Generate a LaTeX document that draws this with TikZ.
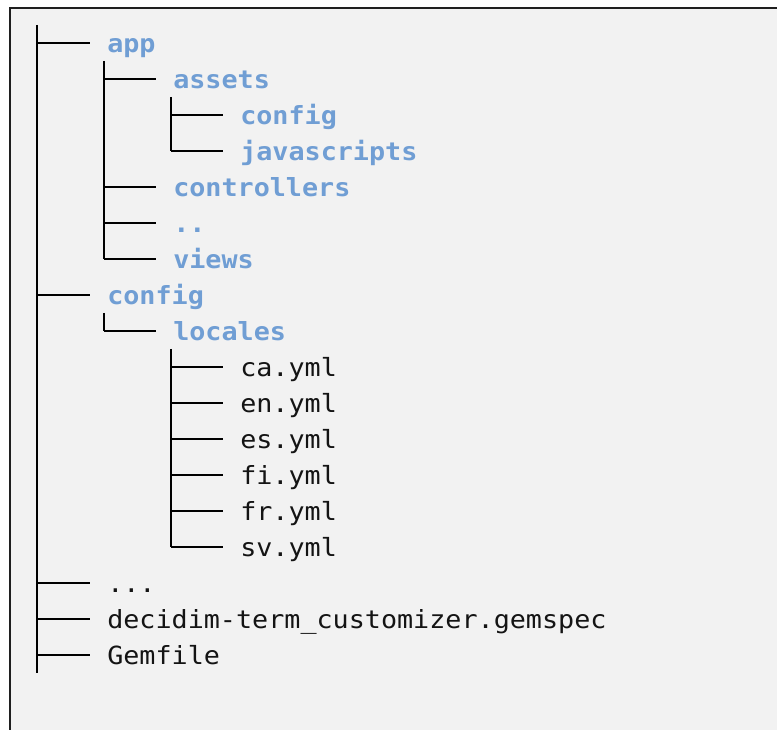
\documentclass[tikz,border=0pt]{standalone}
\usepackage{fontspec}
\newfontfamily\treefont[FakeStretch=1.07]{DejaVu Sans Mono}
\definecolor{boxbg}{RGB}{242,242,242}
\definecolor{dirblue}{RGB}{112,158,212}
\definecolor{fileblack}{RGB}{20,20,20}
\tikzset{
  tree/.style={line width=2.2pt, draw=black},
  item/.style={anchor=west, inner sep=0pt, text height=14.2pt, text depth=0pt,
    font=\treefont\fontsize{18.75pt}{20pt}\selectfont},
  dir/.style={item, text=dirblue, font=\treefont\bfseries\fontsize{18.75pt}{20pt}\selectfont},
  file/.style={item, text=fileblack},
}
\begin{document}
\begin{tikzpicture}[x=0.75pt,y=-0.75pt]
\useasboundingbox (0,0) rectangle (777,730);
\clip (0,0) rectangle (777,730);
\fill[white] (0,0) rectangle (777,730);
\draw[fill=boxbg, draw=black!88, line width=1.6pt] (10,8) rectangle (800,760);

% text nodes
\node[dir] (app) at (107,43) {app};
\node[dir] (assets) at (173,79) {assets};
\node[dir] (aconfig) at (240,115) {config};
\node[dir] (js) at (240,151) {javascripts};
\node[dir] (ctrl) at (173,187) {controllers};
\node[dir] (dots) at (173,223) {..};
\node[dir] (views) at (173,259) {views};
\node[dir] (config) at (107,295) {config};
\node[dir] (locales) at (173,331) {locales};
\node[file] (ca) at (240,367) {ca.yml};
\node[file] (en) at (240,403) {en.yml};
\node[file] (es) at (240,439) {es.yml};
\node[file] (fi) at (240,475) {fi.yml};
\node[file] (fr) at (240,511) {fr.yml};
\node[file] (sv) at (240,547) {sv.yml};
\node[file] (more) at (107,583) {...};
\node[file] (gemspec) at (107,619) {decidim-term\_customizer.gemspec};
\node[file] (gemfile) at (107,655) {Gemfile};

% coordinates of vertical rails
\coordinate (t0) at (37,25);
\coordinate (t1) at (37,673);
\coordinate (a0) at (104,61);
\coordinate (s0) at (171,97);
\coordinate (c0) at (104,313);
\coordinate (l0) at (171,349);

% vertical rails
\draw[tree] (t0) -- (t1);
\draw[tree] (a0) -- (a0 |- views.west);
\draw[tree] (s0) -- (s0 |- js.west);
\draw[tree] (c0) -- (c0 |- locales.west);
\draw[tree] (l0) -- (l0 |- sv.west);

% horizontal branches
\foreach \n in {app,config,more,gemspec,gemfile}
  \draw[tree] (t0 |- \n.west) -- ([xshift=-12.75pt]\n.west);
\foreach \n in {assets,ctrl,dots,views}
  \draw[tree] (a0 |- \n.west) -- ([xshift=-12.75pt]\n.west);
\foreach \n in {aconfig,js}
  \draw[tree] (s0 |- \n.west) -- ([xshift=-12.75pt]\n.west);
\draw[tree] (c0 |- locales.west) -- ([xshift=-12.75pt]locales.west);
\foreach \n in {ca,en,es,fi,fr,sv}
  \draw[tree] (l0 |- \n.west) -- ([xshift=-12.75pt]\n.west);
\end{tikzpicture}
\end{document}
